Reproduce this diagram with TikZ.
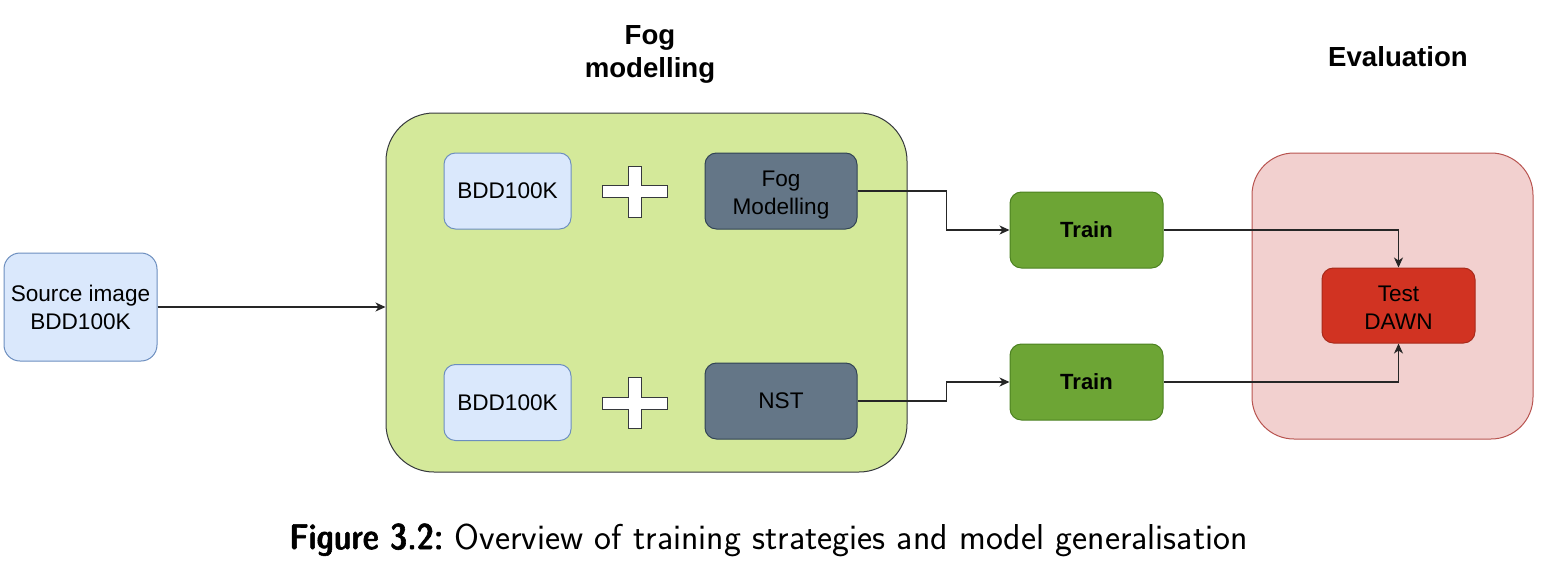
\documentclass[tikz,border=0pt]{standalone}
\usepackage{fontspec}
\setmainfont{Liberation Sans}
\newfontfamily\capbold{lmsansdemicond10-regular}[Extension=.otf, FakeBold=1.6]
\usetikzlibrary{arrows.meta}

\definecolor{srcFill}{HTML}{DAE8FC}
\definecolor{srcLine}{HTML}{6C8EBF}
\definecolor{fogFill}{HTML}{D4E99A}
\definecolor{fogLine}{HTML}{36393D}
\definecolor{methFill}{HTML}{647687}
\definecolor{methLine}{HTML}{314354}
\definecolor{trainFill}{HTML}{6DA535}
\definecolor{trainLine}{HTML}{4C8121}
\definecolor{evalFill}{HTML}{F2D0CF}
\definecolor{evalLine}{HTML}{B85450}
\definecolor{testFill}{HTML}{D13322}
\definecolor{testLine}{HTML}{A82A1A}

\tikzset{
    box/.style = {draw, line width=0.5pt, rounded corners=5.7pt, align=center,
        inner sep=0pt, minimum width=76pt, minimum height=38pt,
        font=\fontsize{11.3}{14}\selectfont},
    srcbox/.style = {box, fill=srcFill, draw=srcLine},
    methbox/.style = {box, fill=methFill, draw=methLine},
    trainbox/.style = {box, fill=trainFill, draw=trainLine, font=\fontsize{11}{14}\selectfont\bfseries},
    testbox/.style = {box, fill=testFill, draw=testLine},
    group/.style = {draw, line width=0.5pt, inner sep=0pt},
    heading/.style = {align=center, font=\fontsize{13.8}{16.5}\selectfont\bfseries},
    plus/.style = {draw=fogLine, fill=white, line width=0.5pt},
    link/.style = {draw=black!85, line width=0.6pt, -{Stealth[length=5pt, width=4.5pt, inset=1.5pt]}},
}

\begin{document}
\begin{tikzpicture}[x=0.5pt, y=-0.5pt]
            \useasboundingbox (0, 0) rectangle (1554, 580);

            % groups
            \draw
                (646.5, 292.5) node (fog) [group, fill=fogFill, draw=fogLine, rounded corners=24pt,
                    minimum width=260.5pt, minimum height=179.5pt] {}
                (1392.5, 296) node (eval) [group, fill=evalFill, draw=evalLine, rounded corners=21pt,
                    minimum width=140.5pt, minimum height=143pt] {}
            ;

            \draw
                (650, 54) node (fogtitle) [heading] {Fog\\modelling}
                (1398, 57) node (evaltitle) [heading] {Evaluation}

                (80.5, 307) node (src) [srcbox, rounded corners=8pt, minimum width=76.5pt,
                    minimum height=54pt] {Source image\\BDD100K}

                (507.5, 191) node (bddA) [srcbox, minimum width=63.5pt] {BDD100K}
                (781, 191) node (fogmod) [methbox] {\rule{0pt}{11.5pt}Fog\\Modelling}
                (507.5, 402.5) node (bddB) [srcbox, minimum width=63.5pt] {BDD100K}
                (781, 401) node (nst) [methbox] {NST}

                (1086.5, 230) node (trainA) [trainbox, minimum width=76.5pt] {Train}
                (1086.5, 382) node (trainB) [trainbox, minimum width=76.5pt] {Train}

                (1398.5, 305.5) node (test) [testbox, minimum width=76.5pt, minimum height=37.5pt]
                    {\rule{0pt}{9.5pt}Test\\DAWN}
            ;

            % plus signs
            \foreach \cy in {191.5, 403}
                \draw[plus] (602, \cy - 6) -- ++(26, 0) -- ++(0, -19.5) -- ++(13, 0) -- ++(0, 19.5)
                    -- ++(26, 0) -- ++(0, 12) -- ++(-26, 0) -- ++(0, 19.5) -- ++(-13, 0)
                    -- ++(0, -19.5) -- ++(-26, 0) -- cycle;

            \draw[link] (src.east) -- (src.east -| fog.west);
            \draw[link] (fogmod.east) -- ++(89, 0) |- (trainA.west);
            \draw[link] (nst.east) -- ++(89, 0) |- (trainB.west);
            \draw[link] (trainA.east) -| (test.north);
            \draw[link] (trainB.east) -| (test.south);

            \node (caption) at (768.5, 540) {\fontsize{18}{21}\selectfont\capbold Figure 3.2:\
                \sffamily Overview of training strategies and model generalisation};

        \end{tikzpicture}
\end{document}
